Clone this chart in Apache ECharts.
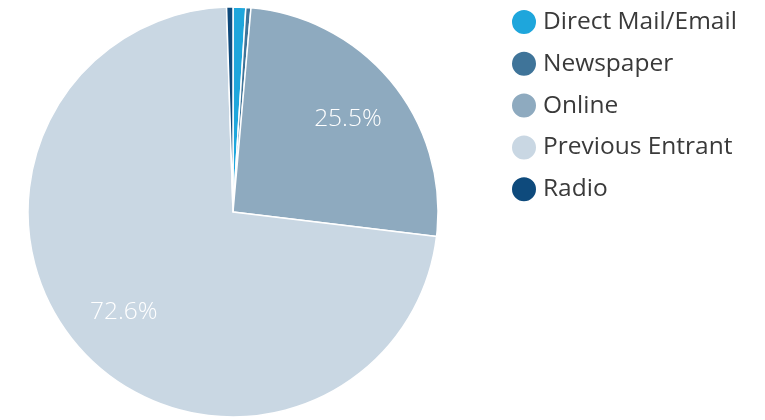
<!DOCTYPE html>
<html><head><meta charset="utf-8">
<script src="https://cdn.jsdelivr.net/npm/echarts@6/dist/echarts.min.js"></script>
<style>html,body{margin:0;padding:0;background:#fff}#c{width:765px;height:420px}</style>
</head><body><div id="c"></div>
<script>
const categories = ['Direct Mail/Email', 'Newspaper', 'Online', 'Previous Entrant', 'Radio'];
const values = [1.0, 0.4, 25.5, 72.6, 0.5];
const colors = ['#1ea6dc', '#3f7499', '#8eaabf', '#c9d7e3', '#0e4a7c'];

const chart = echarts.init(document.getElementById('c'));
const data = categories.map((n, i) => ({ name: n, value: values[i], itemStyle: { color: colors[i] } }));
const labelData = categories.map((n, i) => ({
  name: n, value: values[i],
  label: { show: values[i] > 5 }
}));
chart.setOption({
  animation: false,
  legend: {
    orient: 'vertical', left: 505, top: 3, itemGap: 13.8,
    icon: 'circle', itemWidth: 26, itemHeight: 26,
    textStyle: { fontFamily: 'Open Sans', fontSize: 24.5, color: '#3a3a3a', lineHeight: 26, padding: [0, 0, 0, 1] },
    data: categories
  },
  series: [{
    type: 'pie', center: [233, 212], radius: [0, 205],
    startAngle: 90, clockwise: true,
    label: { show: false }, labelLine: { show: false },
    itemStyle: { borderColor: '#fff', borderWidth: 1.5 },
    emphasis: { disabled: true },
    data: data
  }, {
    type: 'pie', center: [233, 212], radius: [0, 290],
    startAngle: 90, clockwise: true, silent: true,
    itemStyle: { color: 'rgba(0,0,0,0)' },
    label: {
      position: 'inside', formatter: p => p.value.toFixed(1) + '%',
      color: '#fff', fontFamily: 'Open Sans', fontWeight: 300, fontSize: 24.5
    },
    labelLine: { show: false },
    emphasis: { disabled: true },
    data: labelData
  }]
});
</script></body></html>
